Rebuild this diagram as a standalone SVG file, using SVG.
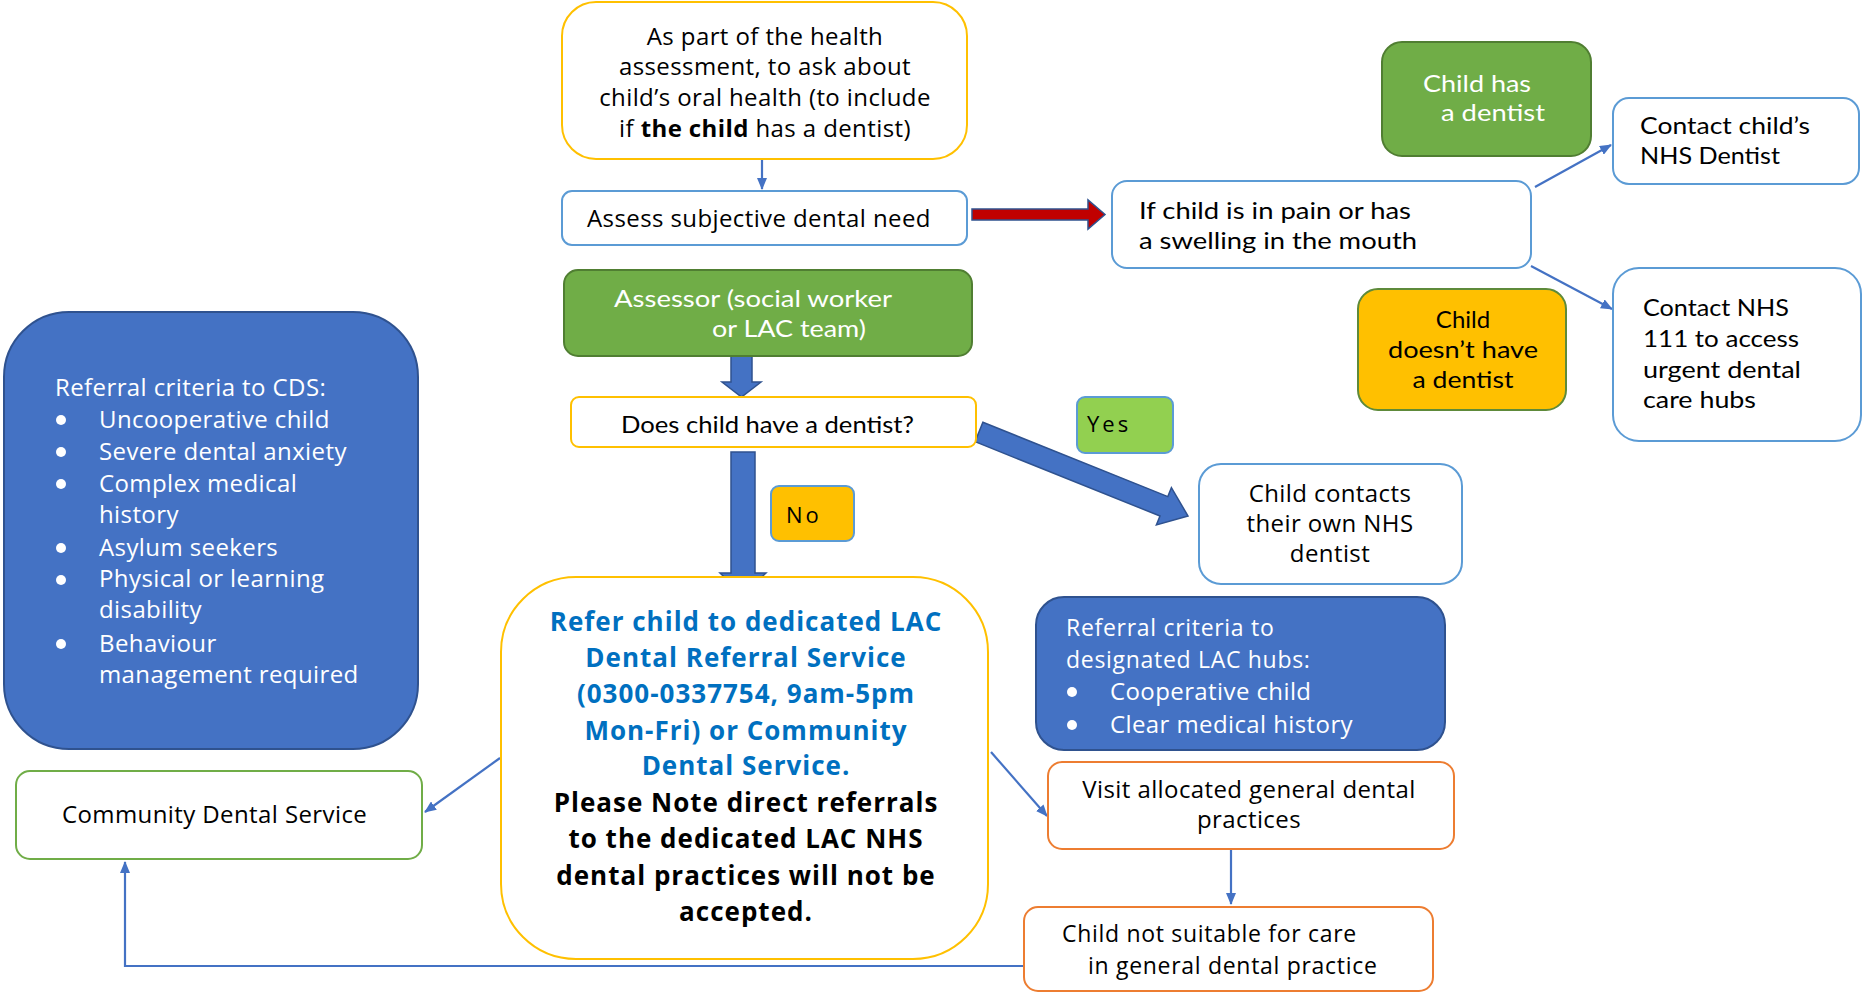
<svg xmlns="http://www.w3.org/2000/svg" width="1865" height="993" viewBox="0 0 1865 993">
<defs>
<style>
.os{font-family:"Open Sans","DejaVu Sans",sans-serif;font-size:24px;letter-spacing:0.4px;fill:#000}
.cb{font-family:Lato,"Liberation Sans",sans-serif;font-size:24px;fill:#000}
.w{fill:#fff}
.ctr{text-anchor:middle}
.bx{fill:#fff;stroke-width:2}
.yl{stroke:#FFC000}
.lb{stroke:#5B9BD5}
.og{stroke:#ED7D31}
.gr{stroke:#70AD47}
.con{fill:none;stroke:#4472C4;stroke-width:2.2;marker-end:url(#ah)}
.thick{fill:#4472C4;stroke:#2F528F;stroke-width:1.5}
.big{font-family:"Open Sans","DejaVu Sans",sans-serif;font-size:26px;letter-spacing:1px;font-weight:bold;text-anchor:middle}
.dot{fill:#fff}
.tight{font-size:23px;letter-spacing:0.7px}
</style>
<marker id="ah" viewBox="0 0 12 10" refX="11" refY="5" markerWidth="12" markerHeight="10" markerUnits="userSpaceOnUse" orient="auto">
<path d="M0,0 L12,5 L0,10 Z" fill="#4472C4"/>
</marker>
</defs>
<rect width="1865" height="993" fill="#fff"/>

<g id="connectors">
<line class="con" x1="762" y1="160" x2="762" y2="189"/>
<line class="con" x1="1535" y1="187" x2="1611" y2="145"/>
<line class="con" x1="1531" y1="266" x2="1612" y2="309"/>
<line class="con" x1="500" y1="758" x2="425" y2="812"/>
<line class="con" x1="991" y1="752" x2="1047" y2="816"/>
<line class="con" x1="1231" y1="850" x2="1231" y2="904"/>
<path class="con" d="M1023,966 H125 V862"/>
<polygon fill="#C00000" stroke="#2F528F" stroke-width="1.5" points="972,209 1088,209 1088,200 1105,214.5 1088,229 1088,220 972,220"/>
<polygon class="thick" points="731,356 752,356 752,382 761,382 741.5,397 722,382 731,382"/>
<polygon class="thick" points="731,452 755,452 755,573 766,573 743,595 720,573 731,573"/>
<polygon class="thick" points="982.9,422.3 1167.8,496.6 1171.4,487.7 1188,516 1156.4,524.9 1160,516 975.1,441.7"/>
</g>

<g id="n-top">
<rect class="bx yl" x="562" y="2" width="405" height="157" rx="34"/>
<text class="os ctr" x="765" y="45">As part of the health</text>
<text class="os ctr" x="765" y="75">assessment, to ask about</text>
<text class="os ctr" x="765" y="106">child’s oral health (to include</text>
<text class="os ctr" x="765" y="137">if <tspan font-weight="bold">the child</tspan> has a dentist)</text>
</g>

<g id="n-assess">
<rect class="bx lb" x="562" y="191" width="405" height="54" rx="10"/>
<text class="os" x="587" y="227">Assess subjective dental need</text>
</g>

<g id="n-pain">
<rect class="bx lb" x="1112" y="181" width="419" height="87" rx="15"/>
<text class="cb" x="1139" y="219" textLength="272" lengthAdjust="spacingAndGlyphs">If child is in pain or has</text>
<text class="cb" x="1139" y="249" textLength="278" lengthAdjust="spacingAndGlyphs">a swelling in the mouth</text>
</g>

<g id="n-has">
<rect x="1382" y="42" width="209" height="114" rx="20" fill="#70AD47" stroke="#507E32" stroke-width="2"/>
<text class="cb w" x="1423" y="92" textLength="108" lengthAdjust="spacingAndGlyphs">Child has</text>
<text class="cb w" x="1441" y="121" textLength="104" lengthAdjust="spacingAndGlyphs">a dentist</text>
</g>

<g id="n-contact-own">
<rect class="bx lb" x="1613" y="98" width="246" height="86" rx="16"/>
<text class="cb" x="1640" y="134" textLength="170" lengthAdjust="spacingAndGlyphs">Contact child’s</text>
<text class="cb" x="1640" y="164" textLength="140" lengthAdjust="spacingAndGlyphs">NHS Dentist</text>
</g>

<g id="n-hasnt">
<rect x="1358" y="289" width="208" height="121" rx="20" fill="#FFC000" stroke="#5E8A3A" stroke-width="2"/>
<text class="cb ctr" x="1463" y="328">Child</text>
<text class="cb ctr" x="1463" y="358" textLength="150" lengthAdjust="spacingAndGlyphs">doesn’t have</text>
<text class="cb ctr" x="1463" y="388" textLength="101" lengthAdjust="spacingAndGlyphs">a dentist</text>
</g>

<g id="n-111">
<rect class="bx lb" x="1613" y="268" width="248" height="173" rx="26"/>
<text class="cb" x="1643" y="316" textLength="146" lengthAdjust="spacingAndGlyphs">Contact NHS</text>
<text class="cb" x="1643" y="347" textLength="156" lengthAdjust="spacingAndGlyphs">111 to access</text>
<text class="cb" x="1643" y="378" textLength="158" lengthAdjust="spacingAndGlyphs">urgent dental</text>
<text class="cb" x="1643" y="408" textLength="113" lengthAdjust="spacingAndGlyphs">care hubs</text>
</g>

<g id="n-assessor">
<rect x="564" y="270" width="408" height="86" rx="14" fill="#70AD47" stroke="#507E32" stroke-width="2"/>
<text class="cb w" x="614" y="307" textLength="278" lengthAdjust="spacingAndGlyphs">Assessor (social worker</text>
<text class="cb w" x="712" y="337" textLength="154" lengthAdjust="spacingAndGlyphs">or LAC team)</text>
</g>

<g id="n-question">
<rect class="bx yl" x="571" y="397" width="405" height="50" rx="8"/>
<text class="cb" x="621" y="433" textLength="293" lengthAdjust="spacingAndGlyphs">Does child have a dentist?</text>
</g>

<g id="n-yes">
<rect x="1077" y="397" width="96" height="56" rx="8" fill="#92D050" stroke="#5B9BD5" stroke-width="2"/>
<text class="os" x="1087" y="432" style="font-size:22px;letter-spacing:3px">Yes</text>
</g>

<g id="n-no">
<rect x="771" y="486" width="83" height="55" rx="8" fill="#FFC000" stroke="#5B9BD5" stroke-width="2"/>
<text class="os" x="786" y="523" style="font-size:22px;letter-spacing:3px">No</text>
</g>

<g id="n-own-nhs">
<rect class="bx lb" x="1199" y="464" width="263" height="120" rx="22"/>
<text class="os ctr" x="1330" y="502">Child contacts</text>
<text class="os ctr" x="1330" y="532">their own NHS</text>
<text class="os ctr" x="1330" y="562">dentist</text>
</g>

<g id="n-cds-criteria">
<rect x="4" y="312" width="414" height="437" rx="65" fill="#4472C4" stroke="#2F528F" stroke-width="2"/>
<text class="os w" x="55" y="396">Referral criteria to CDS:</text>
<g class="dot">
<circle cx="61" cy="420" r="5"/><circle cx="61" cy="452" r="5"/><circle cx="61" cy="484" r="5"/>
<circle cx="61" cy="548" r="5"/><circle cx="61" cy="580" r="5"/><circle cx="61" cy="644" r="5"/>
</g>
<g class="os w">
<text x="99" y="428">Uncooperative child</text>
<text x="99" y="460">Severe dental anxiety</text>
<text x="99" y="492">Complex medical</text>
<text x="99" y="523">history</text>
<text x="99" y="556">Asylum seekers</text>
<text x="99" y="587">Physical or learning</text>
<text x="99" y="618">disability</text>
<text x="99" y="652">Behaviour</text>
<text x="99" y="683">management required</text>
</g>
</g>

<g id="n-refer">
<rect class="bx yl" x="501" y="577" width="487" height="382" rx="75"/>
<g class="big" fill="#0070C0">
<text x="746" y="631">Refer child to dedicated LAC</text>
<text x="746" y="667">Dental Referral Service</text>
<text x="746" y="703">(0300-0337754, 9am-5pm</text>
<text x="746" y="740">Mon-Fri) or Community</text>
<text x="746" y="775">Dental Service.</text>
</g>
<g class="big" fill="#000">
<text x="746" y="812">Please Note direct referrals</text>
<text x="746" y="848">to the dedicated LAC NHS</text>
<text x="746" y="885">dental practices will not be</text>
<text x="746" y="921">accepted.</text>
</g>
</g>

<g id="n-cds">
<rect class="bx gr" x="16" y="771" width="406" height="88" rx="14"/>
<text class="os" x="62" y="823">Community Dental Service</text>
</g>

<g id="n-hub-criteria">
<rect x="1036" y="597" width="409" height="153" rx="28" fill="#4472C4" stroke="#2F528F" stroke-width="2"/>
<g class="dot"><circle cx="1072" cy="692" r="5"/><circle cx="1072" cy="725" r="5"/></g>
<g class="os w">
<text class="tight" x="1066" y="636">Referral criteria to</text>
<text class="tight" x="1066" y="668">designated LAC hubs:</text>
<text x="1110" y="700">Cooperative child</text>
<text x="1110" y="733">Clear medical history</text>
</g>
</g>

<g id="n-visit">
<rect class="bx og" x="1048" y="762" width="406" height="87" rx="14"/>
<text class="os ctr" x="1249" y="798">Visit allocated general dental</text>
<text class="os ctr" x="1249" y="828">practices</text>
</g>

<g id="n-notsuitable">
<rect class="bx og" x="1024" y="907" width="409" height="84" rx="14"/>
<text class="os tight" x="1062" y="942">Child not suitable for care</text>
<text class="os tight" x="1088" y="974">in general dental practice</text>
</g>
</svg>
